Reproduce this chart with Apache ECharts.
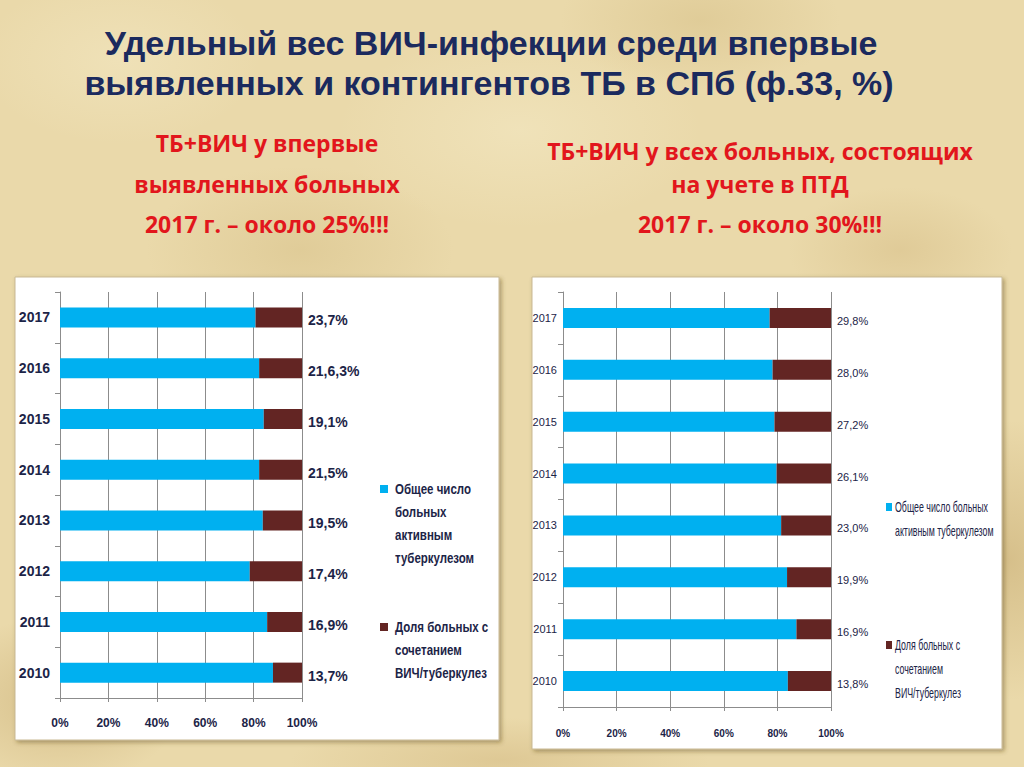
<!DOCTYPE html>
<html><head><meta charset="utf-8">
<script src="https://cdn.jsdelivr.net/npm/echarts@6/dist/echarts.min.js"></script>
<style>
html,body{margin:0;padding:0;width:1024px;height:767px;overflow:hidden}
#bg{position:absolute;left:0;top:0;width:1024px;height:767px;
background-color:#ead9aa;
background-image:
radial-gradient(ellipse 180px 120px at 60px 700px, rgba(190,160,100,0.45), rgba(190,160,100,0) 70%),
radial-gradient(ellipse 140px 200px at 1010px 560px, rgba(190,160,100,0.45), rgba(190,160,100,0) 70%),
radial-gradient(ellipse 220px 120px at 300px 250px, rgba(205,180,120,0.35), rgba(205,180,120,0) 70%),
radial-gradient(ellipse 200px 100px at 700px 20px, rgba(205,180,120,0.35), rgba(205,180,120,0) 70%),
radial-gradient(ellipse 260px 140px at 520px 130px, rgba(245,235,200,0.5), rgba(245,235,200,0) 70%),
radial-gradient(ellipse 200px 120px at 120px 60px, rgba(245,235,200,0.45), rgba(245,235,200,0) 70%),
radial-gradient(ellipse 160px 90px at 900px 250px, rgba(200,170,110,0.3), rgba(200,170,110,0) 70%),
radial-gradient(ellipse 300px 60px at 500px 760px, rgba(200,170,110,0.35), rgba(200,170,110,0) 70%);}
#chart{position:absolute;left:0;top:0;width:1024px;height:767px}
</style></head>
<body><div id="bg"></div><div id="chart"></div>
<script>
// ---- data ----
var years = ['2010','2011','2012','2013','2014','2015','2016','2017'];
var seriesNames = ['Общее число больных активным туберкулезом', 'Доля больных с сочетанием ВИЧ/туберкулез'];
// left chart: впервые выявленные (bar shares, %)
var leftTB  = [88.0, 85.6, 78.4, 83.8, 82.3, 84.2, 82.3, 80.8];
var leftHIV = [12.0, 14.4, 21.6, 16.2, 17.7, 15.8, 17.7, 19.2];
var leftLabels = ['13,7%','16,9%','17,4%','19,5%','21,5%','19,1%','21,6,3%','23,7%'];
// right chart: все больные на учете в ПТД (bar shares, %)
var rightTB  = [83.9, 87.1, 83.6, 81.4, 79.7, 78.9, 78.2, 77.1];
var rightHIV = [16.1, 12.9, 16.4, 18.6, 20.3, 21.1, 21.8, 22.9];
var rightLabels = ['13,8%','16,9%','19,9%','23,0%','26,1%','27,2%','28,0%','29,8%'];
var xTicks = ['0%','20%','40%','60%','80%','100%'];

var mainTitle = ['Удельный вес ВИЧ-инфекции среди впервые', 'выявленных и контингентов ТБ в СПб (ф.33, %)'];
var leftSub = ['ТБ+ВИЧ у впервые', 'выявленных больных', '2017 г. – около 25%!!!'];
var rightSub = ['ТБ+ВИЧ у всех больных, состоящих', 'на учете в ПТД', '2017 г. – около 30%!!!'];
var leftLegend = [['Общее число', 'больных', 'активным', 'туберкулезом'], ['Доля больных с', 'сочетанием', 'ВИЧ/туберкулез']];
var rightLegend = [['Общее число больных', 'активным туберкулезом'], ['Доля больных с', 'сочетанием', 'ВИЧ/туберкулез']];

var CYAN = '#00b0f0', BROWN = '#632523', NAVY = '#1c2447', RED = '#e2161c';
var SANS = '"Liberation Sans", Arial, sans-serif';

// text width measurement, used to condense legend text horizontally like the reference
var cv = document.createElement('canvas').getContext('2d');
function textW(t, font) { cv.font = font; return cv.measureText(t).width; }

function axes(gi, yFont, yBold, xFont, yMargin, xMargin) {
  return {
    x: {
      type: 'value', gridIndex: gi, min: 0, max: 100, interval: 20,
      axisLine: {show: true, lineStyle: {color: '#8c8c8c'}},
      axisTick: {show: true, length: 4, lineStyle: {color: '#8c8c8c'}},
      splitLine: {show: true, lineStyle: {color: '#8c8c8c', width: 1}},
      axisLabel: {formatter: function (v) { return xTicks[Math.round(v / 20)]; }, color: NAVY, fontFamily: SANS, fontWeight: 'bold', fontSize: xFont, margin: xMargin}
    },
    y: {
      type: 'category', gridIndex: gi, data: years,
      axisLine: {show: true, lineStyle: {color: '#8c8c8c'}},
      axisTick: {show: true, length: 5, inside: false, lineStyle: {color: '#8c8c8c'}},
      axisLabel: {color: NAVY, fontFamily: SANS, fontWeight: yBold ? 'bold' : 'normal', fontSize: yFont, margin: yMargin}
    }
  };
}
var a0 = axes(0, 14, true, 12, 10, 19), a1 = axes(1, 11, false, 10, 6, 21);

function barSeries(name, data, color, xi, labels, fs, bold) {
  var s = {
    name: name, type: 'bar', stack: 's' + xi, xAxisIndex: xi, yAxisIndex: xi,
    data: data, barWidth: 20, itemStyle: {color: color}, silent: true
  };
  if (labels) {
    s.label = {
      show: true, position: 'right', distance: 6, offset: [0, 3],
      formatter: function (p) { return labels[p.dataIndex]; },
      color: NAVY, fontFamily: SANS, fontWeight: bold ? 'bold' : 'normal', fontSize: fs
    };
  }
  return s;
}

var graphic = [];
// white panels
graphic.push({type: 'rect', shape: {x: 15, y: 277, width: 484, height: 463},
  style: {fill: '#ffffff', stroke: '#c9b993', lineWidth: 1, shadowBlur: 4, shadowColor: 'rgba(90,70,30,0.45)', shadowOffsetX: 2, shadowOffsetY: 2}, z: -10});
graphic.push({type: 'rect', shape: {x: 532, y: 277, width: 470, height: 472},
  style: {fill: '#ffffff', stroke: '#c9b993', lineWidth: 1, shadowBlur: 4, shadowColor: 'rgba(90,70,30,0.45)', shadowOffsetX: 2, shadowOffsetY: 2}, z: -10});
// main title
graphic.push({type: 'text', x: 491, y: 26, style: {text: mainTitle[0], textAlign: 'center', textVerticalAlign: 'top',
  fill: '#1b2a5e', font: 'bold 34px ' + SANS}});
graphic.push({type: 'text', x: 489, y: 66, style: {text: mainTitle[1], textAlign: 'center', textVerticalAlign: 'top',
  fill: '#1b2a5e', font: 'bold 34px ' + SANS}});
// subtitles
var subY = [143, 184, 224], subYR = [151, 184, 224];
for (var i = 0; i < 3; i++) {
  graphic.push({type: 'text', x: 267, y: subY[i], style: {text: leftSub[i], textAlign: 'center', textVerticalAlign: 'middle',
    fill: RED, font: 'bold 23px "Open Sans", "Noto Sans", sans-serif'}});
  graphic.push({type: 'text', x: 760, y: subYR[i], style: {text: rightSub[i], textAlign: 'center', textVerticalAlign: 'middle',
    fill: RED, font: 'bold 23px "Open Sans", "Noto Sans", sans-serif'}});
}
// legends (icon aligned with first text line, text condensed like the reference)
var colors = [CYAN, BROWN];
var fL = 'bold 15px ' + SANS, fR = '14px ' + SANS;
var sL = 76 / textW(leftLegend[0][0], fL), sR = 93 / textW(rightLegend[0][0], fR);
var legL = [489, 627], legR = [507, 645];
for (var k = 0; k < 2; k++) {
  graphic.push({type: 'rect', shape: {x: 380, y: legL[k] - 4, width: 8, height: 8}, style: {fill: colors[k]}});
  leftLegend[k].forEach(function (line, j) {
    graphic.push({type: 'text', x: 395, y: legL[k] + j * 23, scaleX: sL,
      style: {text: line, textVerticalAlign: 'middle', fill: NAVY, font: fL}});
  });
  graphic.push({type: 'rect', shape: {x: 886, y: legR[k] - 4, width: 6, height: 8}, style: {fill: colors[k]}});
  rightLegend[k].forEach(function (line, j) {
    graphic.push({type: 'text', x: 895, y: legR[k] + j * 24, scaleX: sR,
      style: {text: line, textVerticalAlign: 'middle', fill: NAVY, font: fR}});
  });
}

var option = {
  backgroundColor: 'transparent',
  animation: false,
  graphic: graphic,
  grid: [
    {left: 60, width: 242, top: 292, height: 406},
    {left: 563, width: 268, top: 292, height: 415}
  ],
  xAxis: [a0.x, a1.x],
  yAxis: [a0.y, a1.y],
  series: [
    barSeries(seriesNames[0], leftTB, CYAN, 0),
    barSeries(seriesNames[1], leftHIV, BROWN, 0, leftLabels, 14, true),
    barSeries(seriesNames[0], rightTB, CYAN, 1),
    barSeries(seriesNames[1], rightHIV, BROWN, 1, rightLabels, 11, false)
  ]
};
var chart = echarts.init(document.getElementById('chart'), null, {renderer: 'svg'});
chart.setOption(option);
</script></body></html>
